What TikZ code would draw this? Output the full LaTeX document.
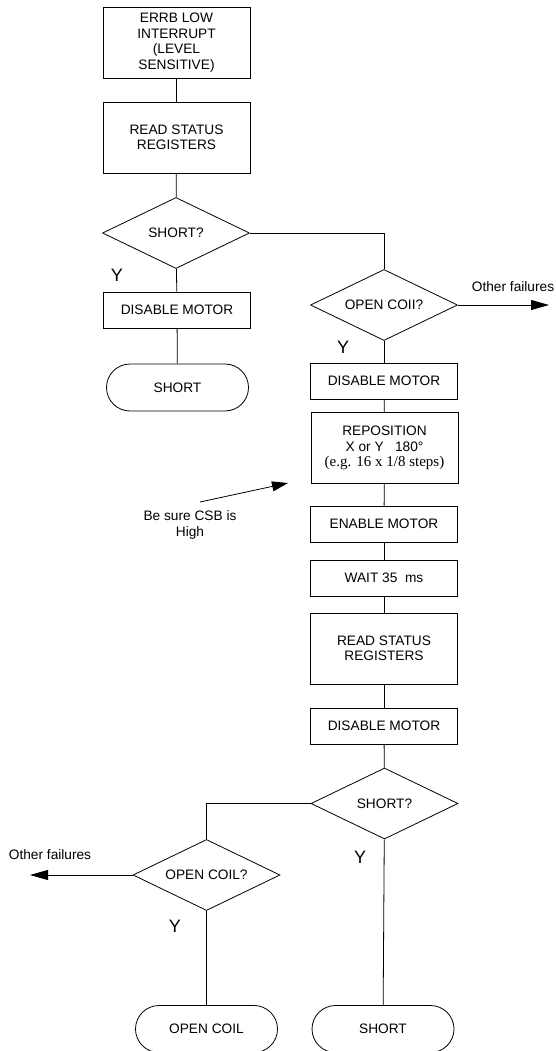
\documentclass[tikz,border=0pt]{standalone}
\usepackage{fontspec}
\setmainfont{Liberation Sans}
\newfontfamily\notefont{Liberation Serif}
\usetikzlibrary{shapes.geometric,shapes.misc,arrows.meta}

\begin{document}
\begin{tikzpicture}[x=1pt,y=-1pt,line width=0.8pt,
    font=\fontsize{13.7}{15.5}\selectfont,
    box/.style={rectangle,draw,minimum width=147pt,minimum height=36pt,inner sep=0pt,align=center},
    tallbox/.style={box,minimum height=71pt},
    decision/.style={diamond,draw,aspect=2,inner sep=0pt,minimum width=147pt,minimum height=71pt},
    terminal/.style={rounded rectangle,draw,minimum width=142pt,minimum height=47pt,inner sep=0pt},
    yes/.style={font=\fontsize{18}{18}\selectfont},
    flow/.style={-{Triangle[length=18pt,width=10pt]}}]
    \useasboundingbox (0,0) rectangle (556,1051);
    \clip (0,0) rectangle (556,1051);

    % left branch: interrupt and first check
    \node[tallbox] at (176.5,42.5) (errb) {ERRB LOW\\INTERRUPT\\(LEVEL\\SENSITIVE)};
    \node[tallbox] at (176.5,137.5) (readA) {READ STATUS\\REGISTERS};
    \node[decision] at (176,233) (shortA) {SHORT?};
    \node[box] at (177,310) (disA) {DISABLE MOTOR};
    \node[terminal] at (177.5,387.5) (endshortA) {SHORT};
    \node[yes] at (117,275) {Y};

    \draw (errb) -- (readA);
    \draw (readA) -- (shortA);
    \draw (shortA) -- (disA);
    \draw (disA) -- (endshortA);

    % right branch: open coil test
    \node[decision] at (384,305) (openA) {OPEN COII?};
    \node[yes] at (343,347) {Y};
    \node[box] at (384,381) (disB) {DISABLE MOTOR};
    \node[tallbox] at (384.5,448) (repos) {REPOSITION\\X or Y \ \ 180°\\{\notefont\fontsize{15}{17}\selectfont (e.g. 16 x 1/8 steps)}};
    \node[box] at (384,524) (enable) {ENABLE MOTOR};
    \node[box] at (384,578) (wait) {WAIT 35 \ ms};
    \node[tallbox] at (384,648.5) (readB) {READ STATUS\\REGISTERS};
    \node[box] at (384,726) (disC) {DISABLE MOTOR};

    \draw (shortA.east) -| (openA.north);
    \coordinate (failA) at (549,305);
    \draw[flow] (openA.east) -- (failA);
    \node at (513,287) {Other failures};
    \draw (openA) -- (disB);
    \draw (disB) -- (repos);
    \draw (repos) -- (enable);
    \draw (enable) -- (wait);
    \draw (wait) -- (readB);
    \draw (readB) -- (disC);

    % note on chip select
    \node[align=center] at (190,525) (note) {Be sure CSB is\\High};
    \coordinate (noteA) at (200,502);
    \coordinate (noteB) at (288,483);
    \draw[-{Triangle[length=16pt,width=10pt]}] (noteA) -- (noteB);

    % second check after repositioning
    \node[decision] at (384.5,803.5) (shortB) {SHORT?};
    \node[yes] at (360,857) {Y};
    \node[decision] at (206.5,875) (openB) {OPEN COIL?};
    \node[yes] at (175,926) {Y};
    \node[terminal] at (206.5,1029) (endopen) {OPEN COIL};
    \node[terminal] at (383,1029) (endshortB) {SHORT};

    \draw (disC) -- (shortB);
    \draw (shortB) -- (endshortB);
    \draw (shortB.west) -| (openB.north);
    \coordinate (failB) at (30,875);
    \draw[flow] (openB.west) -- (failB);
    \node at (50,855) {Other failures};
    \draw (openB) -- (endopen);
\end{tikzpicture}
\end{document}
